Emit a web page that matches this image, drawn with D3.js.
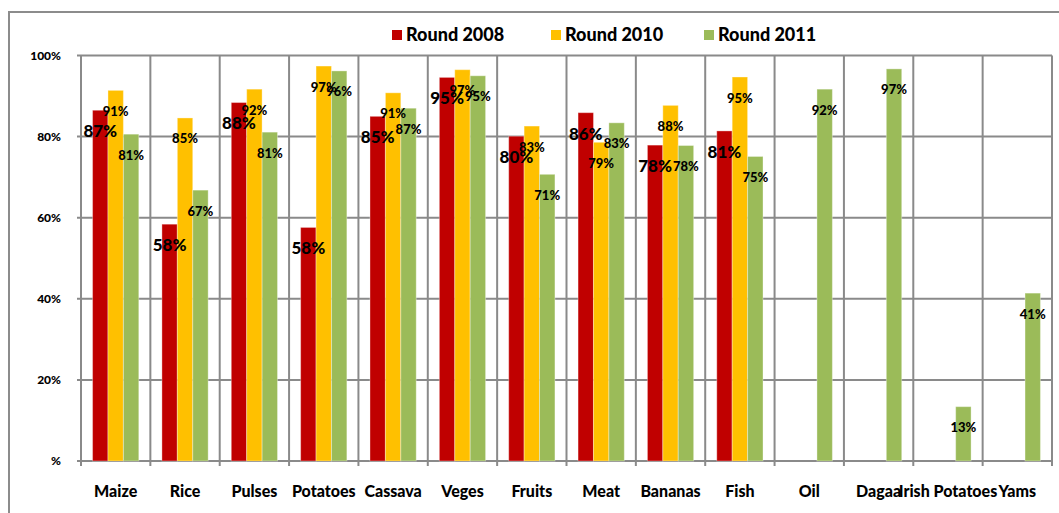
<!doctype html>
<html>
<head>
<style>
  body { margin: 0; background: #fff; }
  svg text { font-family: Lato, "Open Sans", sans-serif; font-weight: 900; fill: #000; }
</style>
<script src="https://d3js.org/d3.v7.min.js"></script>
</head>
<body>
<svg id="svg" width="1059" height="513"></svg>
<script>
var categories = ["Maize", "Rice", "Pulses", "Potatoes", "Cassava", "Veges", "Fruits", "Meat", "Bananas", "Fish", "Oil", "Dagaa", "Irish Potatoes", "Yams"];
var seriesNames = ["Round 2008", "Round 2010", "Round 2011"];
var colors = ["#C00000", "#FFC000", "#9BBB59"];
var round2008 = [86.5, 58.4, 88.4, 57.6, 85.0, 94.6, 80.1, 85.9, 77.9, 81.4, null, null, null, null];
var round2010 = [91.4, 84.6, 91.7, 97.4, 90.8, 96.5, 82.6, 78.6, 87.7, 94.7, null, null, null, null];
var round2011 = [80.6, 66.8, 81.1, 96.2, 87.0, 95.0, 70.7, 83.4, 77.8, 75.1, 91.7, 96.7, 13.4, 41.4];
var yTicks = [0, 20, 40, 60, 80, 100];

var series = [round2008, round2010, round2011];

var svg = d3.select("#svg"),
    plotLeft = 81, plotRight = 1052, plotTop = 55.5, plotBottom = 461;

// outer chart frame
svg.append("rect")
   .attr("x", 9).attr("y", 12)
   .attr("width", 1200).attr("height", 600)
   .attr("fill", "none").attr("stroke", "#8c8c8c").attr("stroke-width", 2);

var xScale = d3.scaleBand().domain(categories).range([plotLeft, plotRight]).padding(0),
    xInner = d3.scaleBand().domain(seriesNames).range([0, xScale.bandwidth()]).paddingInner(0).paddingOuter(0.75),
    yScale = d3.scaleLinear().domain([0, 100]).range([plotBottom, plotTop]);

// horizontal grid + ticks
svg.append("g").selectAll("line")
   .data(yTicks).enter().append("line")
   .attr("x1", plotLeft - 4).attr("x2", plotRight)
   .attr("y1", function(d) { return yScale(d); })
   .attr("y2", function(d) { return yScale(d); })
   .attr("stroke", "#8a8a8a").attr("stroke-width", 2);

// vertical grid at category boundaries
var edges = categories.map(function(c) { return xScale(c); });
edges.push(plotRight);
svg.append("g").selectAll("line")
   .data(edges).enter().append("line")
   .attr("x1", function(d) { return d; }).attr("x2", function(d) { return d; })
   .attr("y1", plotTop).attr("y2", plotBottom + 5)
   .attr("stroke", "#8a8a8a").attr("stroke-width", 2);

// y labels
svg.append("g").selectAll("text")
   .data(yTicks).enter().append("text")
   .attr("x", 61)
   .attr("y", function(d) { return yScale(d); })
   .attr("dy", "0.35em")
   .attr("text-anchor", "end")
   .style("font-size", "12px")
   .text(function(d) { return d === 0 ? "%" : d + "%"; });

// x labels
svg.append("g").selectAll("text")
   .data(categories).enter().append("text")
   .attr("x", function(d) { return xScale(d) + xScale.bandwidth() / 2; })
   .attr("y", 497)
   .attr("text-anchor", "middle")
   .style("font-size", "16px")
   .text(function(d) { return d; });

// bars
series.forEach(function(vals, si) {
    var pts = categories.map(function(c, i) { return { cat: c, v: vals[i] }; })
                        .filter(function(d) { return d.v !== null; });
    svg.append("g").selectAll("rect")
     .data(pts).enter().append("rect")
     .attr("x", function(d) { return xScale(d.cat) + xInner(seriesNames[si]); })
     .attr("y", function(d) { return yScale(d.v); })
     .attr("width", xInner.bandwidth())
     .attr("height", function(d) { return plotBottom - yScale(d.v); })
     .attr("fill", colors[si])
     .attr("stroke", "#ffffff").attr("stroke-opacity", 0.35).attr("stroke-width", 1);
});

// data labels
series.forEach(function(vals, si) {
    var pts = categories.map(function(c, i) { return { cat: c, v: vals[i] }; })
                        .filter(function(d) { return d.v !== null; });
    svg.append("g").selectAll("text")
     .data(pts).enter().append("text")
     .attr("x", function(d) { return xScale(d.cat) + xInner(seriesNames[si]) + xInner.bandwidth() / 2; })
     .attr("y", function(d) { return yScale(d.v) + 21; })
     .attr("dy", "0.35em")
     .attr("text-anchor", "middle")
     .style("font-size", si === 0 ? "17px" : "13px")
     .text(function(d) { return Math.round(d.v) + "%"; });
});

// legend
var legendX = [392, 551, 704];
var legend = svg.append("g").selectAll("g")
   .data(seriesNames).enter().append("g")
   .attr("transform", function(d, i) { return "translate(" + legendX[i] + ",30)"; });
legend.append("rect")
   .attr("width", 10).attr("height", 10)
   .attr("fill", function(d, i) { return colors[i]; });
legend.append("text")
   .attr("x", 14).attr("y", 5).attr("dy", "0.36em")
   .style("font-size", "18px")
   .text(function(d) { return d; });
</script>
</body>
</html>
